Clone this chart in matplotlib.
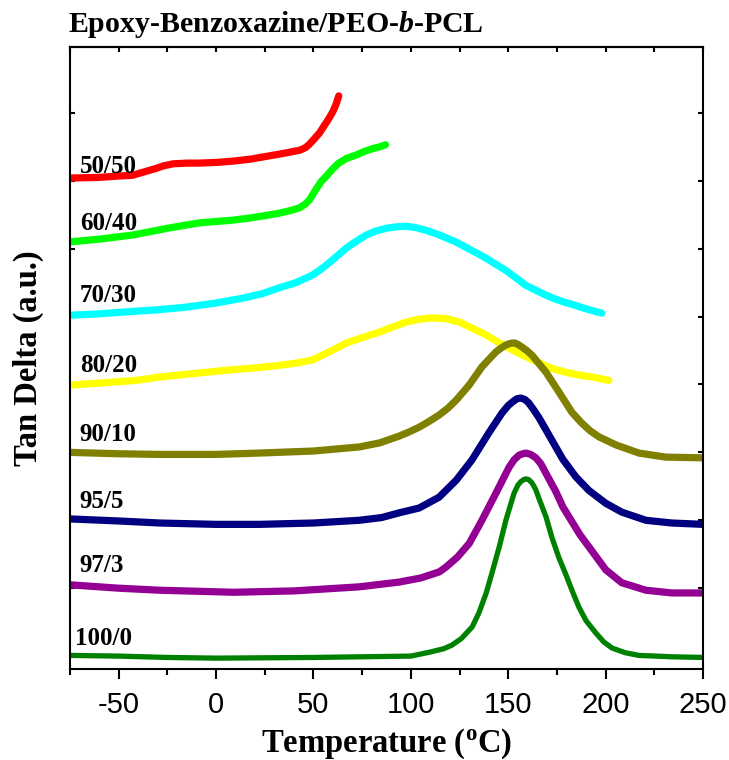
import matplotlib
matplotlib.use("Agg")
import matplotlib.pyplot as plt
from matplotlib.ticker import MultipleLocator

plt.rcParams['mathtext.fontset'] = 'custom'
plt.rcParams['mathtext.rm'] = 'Liberation Serif:bold'
plt.rcParams['mathtext.it'] = 'Liberation Serif:italic:bold'
plt.rcParams['mathtext.bf'] = 'Liberation Serif:bold'
plt.rcParams['axes.unicode_minus'] = False

# Blend compositions (epoxy-benzoxazine / block copolymer), stacked tan delta traces
compositions = ["50/50", "60/40", "70/30", "80/20", "90/10", "95/5", "97/3", "100/0"]

temp_50_50 = [-75, -60, -50, -43, -37, -31, -27, -22, -15, -9, 0, 9, 18, 26, 34, 43,
              46, 48, 50.5, 53, 55.5, 58, 60, 61.5, 63]
tan_50_50 = [7.04, 7.05, 7.07, 7.08, 7.13, 7.18, 7.22, 7.25, 7.26, 7.26, 7.27, 7.29, 7.32,
             7.36, 7.40, 7.45, 7.49, 7.54, 7.62, 7.70, 7.81, 7.92, 8.02, 8.12, 8.25]

temp_60_40 = [-75, -60, -43, -34, -25, -17, -8.5, 0, 8.5, 17, 26, 32, 38, 42.7, 45.5, 48,
              51, 54, 57, 60, 63, 67, 72, 76, 80, 84, 87]
tan_60_40 = [6.10, 6.14, 6.20, 6.25, 6.30, 6.34, 6.38, 6.40, 6.42, 6.45, 6.49, 6.52, 6.56,
             6.60, 6.65, 6.72, 6.86, 6.99, 7.08, 7.18, 7.26, 7.33, 7.38, 7.43, 7.47, 7.50, 7.53]

temp_70_30 = [-75, -60, -46, -30, -15, 0, 13.5, 24, 32, 41, 49.4, 54, 58, 62.5, 66.9, 72,
              77.1, 82, 87.3, 92, 97.6, 102.5, 107.8, 113, 118.1, 123, 128.3, 133.5, 138.6,
              143.7, 148.8, 154, 159, 164, 169, 174, 179, 184, 188, 193, 198]
tan_70_30 = [5.02, 5.04, 5.07, 5.10, 5.14, 5.20, 5.27, 5.34, 5.42, 5.50, 5.61, 5.70, 5.79,
             5.90, 6.01, 6.11, 6.20, 6.26, 6.30, 6.32, 6.33, 6.31, 6.27, 6.22, 6.16, 6.10,
             6.02, 5.94, 5.86, 5.77, 5.68, 5.57, 5.46, 5.39, 5.32, 5.26, 5.21, 5.17, 5.13,
             5.09, 5.05]

temp_80_20 = [-75, -60, -41, -29, -12, 5.6, 22, 32, 40, 49.4, 58, 66.9, 75, 83.7, 90, 97.6,
              104, 110.9, 118, 124.9, 131.5, 138.6, 145, 152, 159, 165.8, 172, 179.6, 186,
              193, 201.7]
tan_80_20 = [3.99, 4.02, 4.06, 4.11, 4.16, 4.21, 4.25, 4.28, 4.31, 4.36, 4.48, 4.61, 4.69,
             4.77, 4.84, 4.92, 4.96, 4.98, 4.97, 4.92, 4.83, 4.73, 4.62, 4.51, 4.41, 4.32,
             4.24, 4.18, 4.14, 4.11, 4.06]

temp_90_10 = [-75, -50, -29, 0, 22, 50, 73.5, 84, 94, 99, 104.2, 109, 114.5, 119, 123.3,
              129.9, 136.5, 143.7, 146.5, 148.8, 150.5, 152, 153.5, 155, 157.1, 159.5, 162.2,
              169.4, 176, 182.7, 187.8, 192, 196.5, 205.3, 217.1, 230.9, 250]
tan_90_10 = [3.00, 2.98, 2.97, 2.97, 2.99, 3.02, 3.08, 3.14, 3.24, 3.30, 3.37, 3.45, 3.55,
             3.65, 3.77, 3.99, 4.26, 4.48, 4.54, 4.58, 4.60, 4.61, 4.61, 4.59, 4.55, 4.50,
             4.43, 4.18, 3.89, 3.59, 3.43, 3.32, 3.23, 3.11, 2.99, 2.93, 2.92]

temp_95_5 = [-75, -50, -29, 0, 22, 50, 73.5, 85, 94, 104.2, 114.5, 123.3, 131.4, 140.1,
             146.8, 150, 152.5, 154.5, 156.5, 158.5, 160.5, 163, 165.8, 172.4, 178, 184.7,
             191.4, 200.1, 208.3, 220.7, 234, 250]
tan_95_5 = [2.02, 1.99, 1.96, 1.94, 1.94, 1.96, 2.00, 2.04, 2.11, 2.18, 2.34, 2.59, 2.89,
            3.29, 3.58, 3.69, 3.75, 3.79, 3.80, 3.78, 3.73, 3.63, 3.51, 3.18, 2.90, 2.64,
            2.44, 2.25, 2.12, 2.00, 1.96, 1.94]

temp_97_3 = [-75, -50, -29, 9, 40, 73.5, 94, 105, 114.6, 118, 124, 130, 136.5, 143.7,
             150.4, 153, 155.6, 157.5, 159.2, 161.5, 164.2, 166.8, 169.4, 174.5, 178, 182.7,
             187, 191.4, 200.1, 208.3, 220.7, 234, 250]
tan_97_3 = [1.05, 1.00, 0.97, 0.94, 0.96, 1.02, 1.09, 1.15, 1.24, 1.31, 1.46, 1.66, 2.00,
            2.40, 2.78, 2.89, 2.96, 2.98, 2.99, 2.97, 2.92, 2.83, 2.69, 2.42, 2.20, 1.98,
            1.78, 1.61, 1.27, 1.08, 0.97, 0.93, 0.93]

temp_100_0 = [-75, -50, -25, 0, 50, 100, 110, 117, 121, 126, 131.5, 135, 138.7, 142, 145.4,
              148.8, 153, 155, 156.5, 158, 159.2, 160.5, 162.2, 164, 165.8, 169.4, 172.4,
              176, 179.6, 183, 186.3, 190, 195, 199, 203.2, 210, 217.1, 234, 250]
tan_100_0 = [0.01, 0.00, -0.02, -0.03, -0.02, 0.00, 0.06, 0.11, 0.16, 0.26, 0.43, 0.64,
             0.93, 1.26, 1.61, 2.00, 2.40, 2.52, 2.57, 2.60, 2.61, 2.60, 2.55, 2.46, 2.32,
             2.05, 1.75, 1.45, 1.20, 0.95, 0.72, 0.52, 0.34, 0.21, 0.12, 0.05, 0.01, -0.01,
             -0.02]

temps = [temp_50_50, temp_60_40, temp_70_30, temp_80_20, temp_90_10, temp_95_5, temp_97_3, temp_100_0]
tans = [tan_50_50, tan_60_40, tan_70_30, tan_80_20, tan_90_10, tan_95_5, tan_97_3, tan_100_0]

colors = ["#FF0000", "#00FF00", "#00FFFF", "#FFFF00", "#808000", "#000080", "#930093", "#008000"]
widths = [5.2, 5.2, 5.2, 5.2, 5.2, 5.2, 5.2, 3.8]
label_x = [-70, -70, -70, -70, -70, -70, -70, -72.5]
label_y = [7.11, 6.27, 5.21, 4.18, 3.17, 2.18, 1.24, 0.16]

fig = plt.figure(figsize=(7.29, 7.60), dpi=100)
ax = fig.add_axes([70 / 729, 1 - 669 / 760, 633 / 729, 622 / 760])

for t, v, c, w in zip(temps, tans, colors, widths):
    ax.plot(t, v, color=c, lw=w, solid_capstyle='round', solid_joinstyle='round')

for name, lx, ly in zip(compositions, label_x, label_y):
    ax.text(lx, ly, name, family='Liberation Serif', weight='bold', fontsize=18,
            ha='left', va='baseline')

ax.set_xlim(-75, 250)
ax.set_ylim(-0.19, 8.97)

ax.xaxis.set_major_locator(MultipleLocator(50))
ax.xaxis.set_minor_locator(MultipleLocator(25))
ax.yaxis.set_major_locator(MultipleLocator(1))
ax.tick_params(axis='x', which='major', direction='out', length=7, width=1.5,
               pad=9, labelsize=21)
ax.tick_params(axis='x', which='minor', direction='out', length=4.5, width=1.5)
ax.tick_params(axis='y', which='both', direction='in', length=3.5, width=1.5,
               left=True, right=True, labelleft=False)
for lab in ax.get_xticklabels():
    lab.set_family('Liberation Sans')

top = ax.secondary_xaxis('top')
top.xaxis.set_major_locator(MultipleLocator(25))
top.tick_params(axis='x', which='both', direction='in', length=3.5, width=1.5,
                labeltop=False)
top.spines['top'].set_linewidth(1.5)

for sp in ax.spines.values():
    sp.set_linewidth(1.5)

ax.set_xlabel(r"Temperature ($\mathregular{^o}$C)", family='Liberation Serif',
              weight='bold', fontsize=23.5)
ax.xaxis.set_label_coords(0.5, -0.093)
ax.set_ylabel("Tan Delta (a.u.)", family='Liberation Serif', weight='bold',
              fontsize=23.5)
ax.yaxis.set_label_coords(-0.041, 0.5)

fig.text(68 / 729, 1 - 32 / 760, r"Epoxy-Benzoxazine/PEO-$\mathit{b}$-PCL",
         family='Liberation Serif', weight='bold', fontsize=21.5,
         ha='left', va='baseline')

fig.savefig("out.png", dpi=100)
